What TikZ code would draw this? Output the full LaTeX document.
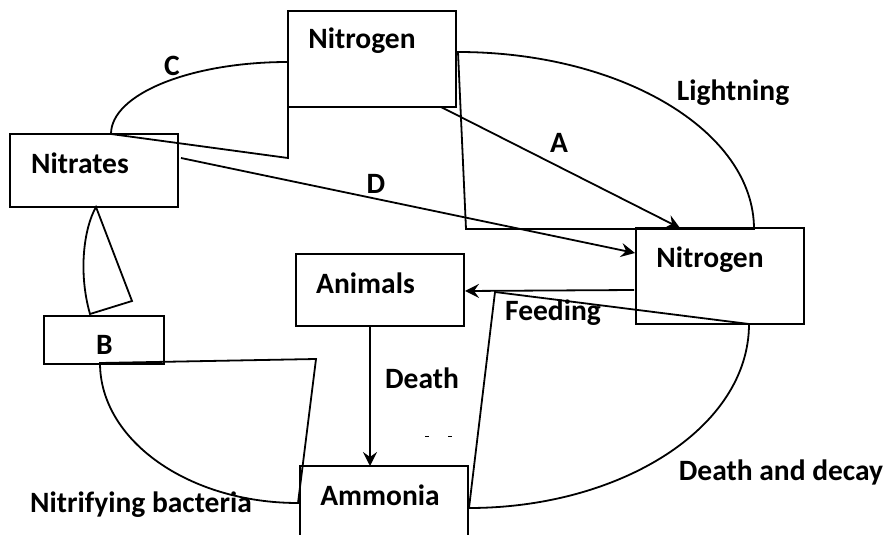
\documentclass[tikz,border=0pt]{standalone}
\usepackage{fontspec}
\setmainfont{Carlito}
\usetikzlibrary{arrows.meta}
\begin{document}
\begin{tikzpicture}[x=1pt,y=-1pt,
  box/.style={draw,line width=1.8pt,inner sep=0pt},
  lbl/.style={anchor=base,font=\fontsize{29.5}{33}\selectfont\bfseries,inner sep=0pt},
  ln/.style={line width=1.8pt,line join=miter},
  arr/.style={ln,-{Stealth[length=14pt,width=14pt,inset=5pt]}}]
\clip (0,0) rectangle (887,535);
\fill[white] (0,0) rectangle (887,535);

% boxes
\node[box,minimum width=168pt,minimum height=96pt] (ntop) at (372,59) {};
\node[box,minimum width=168pt,minimum height=73pt] (nitrates) at (94,170.5) {};
\node[box,minimum width=168pt,minimum height=96pt] (nright) at (720,276) {};
\node[box,minimum width=168pt,minimum height=72pt] (animals) at (380,290) {};
\node[box,minimum width=120pt,minimum height=48pt] (bbox) at (104,340) {};
\node[box,minimum width=168pt,minimum height=104pt] (ammonia) at (384,518) {};

% wedges (arcs with their two straight sides)
\draw[ln] (111,134) .. controls (111,94.2) and (190.2,62) .. (288,62)
  -- (288,158) -- (111,134);
\draw[ln] (458,52) .. controls (621.5,52) and (754,131.2) .. (754,229)
  -- (466,229) -- cycle;
\draw[ln] (749,324) .. controls (749,428) and (620,508) .. (469,508)
  -- (495,292) -- cycle;
\draw[ln] (100,363) .. controls (100,440.3) and (188.6,503) .. (298,503)
  -- (316,359) -- cycle;
\draw[ln] (96,207) .. controls (84,228) and (78,272) .. (90,314)
  -- (132,301) -- cycle;

% arrow end points
\coordinate (aS) at (441,107);
\coordinate (aE) at (680,228);
\coordinate (dS) at (181,158);
\coordinate (dE) at (635,253);
\coordinate (fS) at (634,290);
\coordinate (fE) at (465,291);
\coordinate (deS) at (370,326);
\coordinate (deE) at (370,466);

\draw[arr] (aS) -- (aE);
\draw[arr] (dS) -- (dE);
\draw[arr] (fS) -- (fE);
\draw[arr] (deS) -- (deE);

% small dashes
\coordinate (m1a) at (425,436); \coordinate (m1b) at (429,436);
\coordinate (m2a) at (448,436); \coordinate (m2b) at (452,436);
\draw[line width=0.8pt] (m1a) -- (m1b);
\draw[line width=0.8pt] (m2a) -- (m2b);

% labels
\node[lbl] (tNtop) at (362,49) {Nitrogen};
\node[lbl] (tNitr) at (80,173) {Nitrates};
\node[lbl] (tNr) at (710,267) {Nitrogen};
\node[lbl] (tAn) at (365.5,293) {Animals};
\node[lbl] (tB) at (104.5,354) {B};
\node[lbl] (tAm) at (380,505) {Ammonia};
\node[lbl] (tC) at (172,76) {C};
\node[lbl] (tD) at (376,193) {D};
\node[lbl] (tA) at (559,152) {A};
\node[lbl] (tL) at (733,100) {Lightning};
\node[lbl] (tF) at (553,320) {Feeding};
\node[lbl] (tDe) at (422,388) {Death};
\node[lbl] (tNb) at (141,512) {Nitrifying bacteria};
\node[lbl] (tDd) at (781,480) {Death and decay};
\end{tikzpicture}
\end{document}
